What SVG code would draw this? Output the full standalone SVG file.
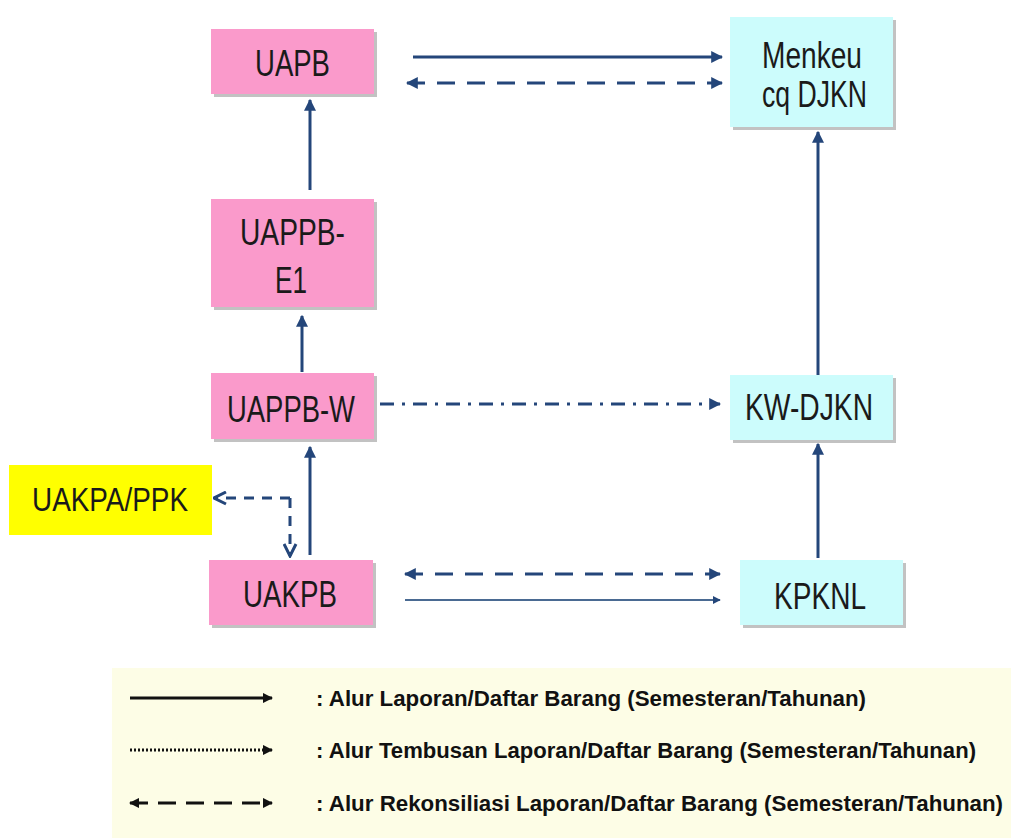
<svg xmlns="http://www.w3.org/2000/svg" width="1011" height="838" viewBox="0 0 1011 838">
<defs>
<style>
.pink{fill:#FA9ACB}
.cyan{fill:#CCFCFC}
.shadow{fill:#9a9a9a;opacity:0.6}
.nt{font-family:"Liberation Sans",Arial,sans-serif;font-size:37px;fill:#1a1a1a}
.c{stroke:#24467A;stroke-width:3;fill:none}
.lg{font-family:"Liberation Sans",Arial,sans-serif;font-weight:bold;font-size:22px;fill:#111}
.ll{stroke:#111;stroke-width:3;fill:none}
</style>
<marker id="ah" viewBox="0 0 10 10" refX="9" refY="5" markerWidth="4" markerHeight="4" orient="auto-start-reverse" markerUnits="strokeWidth">
<path d="M0,0 L10,5 L0,10 z" fill="#24467A"/>
</marker>
<marker id="ao" viewBox="0 0 10 10" refX="9" refY="5" markerWidth="5" markerHeight="5" orient="auto-start-reverse" markerUnits="strokeWidth">
<path d="M1,1 L9,5 L1,9" fill="none" stroke="#24467A" stroke-width="2"/>
</marker>
<marker id="lk" viewBox="0 0 10 10" refX="9" refY="5" markerWidth="3.5" markerHeight="3.5" orient="auto-start-reverse" markerUnits="strokeWidth">
<path d="M0,0 L10,5 L0,10 z" fill="#111"/>
</marker>
</defs>
<rect width="1011" height="838" fill="#fff"/>
<g id="uapb">
<rect class="shadow" x="214" y="32" width="163" height="65"/>
<rect class="pink" x="211" y="29" width="163" height="65"/>
<text class="nt" x="255" y="76" textLength="75" lengthAdjust="spacingAndGlyphs">UAPB</text>
</g>
<g id="menkeu">
<rect class="shadow" x="733" y="20" width="163" height="110"/>
<rect class="cyan" x="730" y="17" width="163" height="110"/>
<text class="nt" x="762" y="68" textLength="100" lengthAdjust="spacingAndGlyphs">Menkeu</text>
<text class="nt" x="762" y="107" textLength="105" lengthAdjust="spacingAndGlyphs">cq DJKN</text>
</g>
<g id="uappb-e1">
<rect class="shadow" x="214" y="202" width="163" height="108"/>
<rect class="pink" x="211" y="199" width="163" height="108"/>
<text class="nt" x="240" y="245" textLength="105" lengthAdjust="spacingAndGlyphs">UAPPB-</text>
<text class="nt" x="275" y="293" textLength="32" lengthAdjust="spacingAndGlyphs">E1</text>
</g>
<g id="uappb-w">
<rect class="shadow" x="214" y="376" width="163" height="66"/>
<rect class="pink" x="211" y="373" width="163" height="66"/>
<text class="nt" x="227" y="422" textLength="128" lengthAdjust="spacingAndGlyphs">UAPPB-W</text>
</g>
<g id="uakpa-ppk">
<rect fill="#FFFF00" x="9" y="465" width="203" height="70"/>
<text class="nt" x="32" y="511" textLength="156" lengthAdjust="spacingAndGlyphs" style="font-size:33px">UAKPA/PPK</text>
</g>
<g id="uakpb">
<rect class="shadow" x="212" y="563" width="164" height="65"/>
<rect class="pink" x="209" y="560" width="164" height="65"/>
<text class="nt" x="243" y="607" textLength="94" lengthAdjust="spacingAndGlyphs">UAKPB</text>
</g>
<g id="kw-djkn">
<rect class="shadow" x="733" y="378" width="163" height="65"/>
<rect class="cyan" x="730" y="375" width="163" height="65"/>
<text class="nt" x="745" y="420" textLength="128" lengthAdjust="spacingAndGlyphs">KW-DJKN</text>
</g>
<g id="kpknl">
<rect class="shadow" x="743" y="563" width="163" height="65"/>
<rect class="cyan" x="740" y="560" width="163" height="65"/>
<text class="nt" x="774" y="609" textLength="92" lengthAdjust="spacingAndGlyphs">KPKNL</text>
</g>
<g id="connectors">
<line class="c" x1="413" y1="57" x2="722" y2="57" marker-end="url(#ah)"/>
<line class="c" x1="407" y1="83" x2="722" y2="83" stroke-dasharray="18,12" marker-start="url(#ah)" marker-end="url(#ah)"/>
<line class="c" x1="310" y1="190" x2="310" y2="100" marker-end="url(#ah)"/>
<line class="c" x1="302" y1="372" x2="302" y2="316" marker-end="url(#ah)"/>
<line class="c" x1="380" y1="404" x2="720" y2="404" stroke-dasharray="14,8,3,8" marker-end="url(#ah)"/>
<line class="c" x1="310" y1="555" x2="310" y2="447" marker-end="url(#ah)"/>
<polyline class="c" points="290,498 290,556" stroke-dasharray="10,8" marker-end="url(#ao)"/>
<line class="c" x1="290" y1="498" x2="214" y2="498" stroke-dasharray="10,8" marker-end="url(#ao)"/>
<line class="c" x1="818" y1="558" x2="818" y2="444" marker-end="url(#ah)"/>
<line class="c" x1="818" y1="375" x2="818" y2="132" marker-end="url(#ah)"/>
<line class="c" x1="405" y1="574" x2="720" y2="574" stroke-dasharray="18,12" marker-start="url(#ah)" marker-end="url(#ah)"/>
<line x1="405" y1="600" x2="720" y2="600" stroke="#4A6A92" stroke-width="2" marker-end="url(#ah)"/>
</g>
<g id="legend">
<rect x="112" y="668" width="899" height="170" fill="#FDFDE6"/>
<line class="ll" x1="130" y1="698" x2="272" y2="698" marker-end="url(#lk)"/>
<line class="ll" x1="130" y1="750" x2="272" y2="750" stroke-dasharray="2,2" marker-end="url(#lk)"/>
<line class="ll" x1="130" y1="803" x2="272" y2="803" stroke-dasharray="18,10" marker-start="url(#lk)" marker-end="url(#lk)"/>
<text class="lg" x="316" y="706" textLength="550" lengthAdjust="spacingAndGlyphs">: Alur Laporan/Daftar Barang (Semesteran/Tahunan)</text>
<text class="lg" x="316" y="758" textLength="660" lengthAdjust="spacingAndGlyphs">: Alur Tembusan Laporan/Daftar Barang (Semesteran/Tahunan)</text>
<text class="lg" x="316" y="811" textLength="687" lengthAdjust="spacingAndGlyphs">: Alur Rekonsiliasi Laporan/Daftar Barang (Semesteran/Tahunan)</text>
</g>
</svg>
